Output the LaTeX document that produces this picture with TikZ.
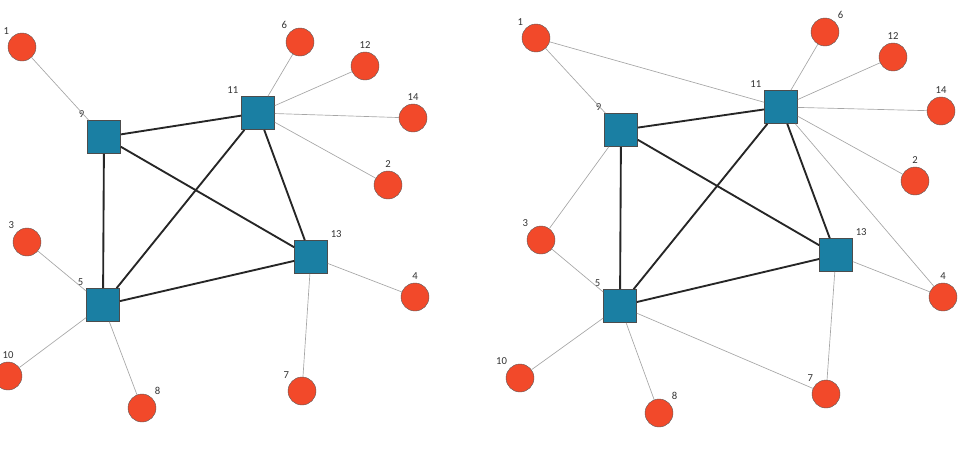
\documentclass[tikz,border=0pt]{standalone}
\usepackage{fontspec}
\setmainfont{Carlito}
\definecolor{nodered}{HTML}{F2492A}
\definecolor{hubblue}{HTML}{1A7FA3}
\tikzset{
  leaf/.style={circle, fill=nodered, draw=gray!70!black, line width=0.3pt, minimum size=21pt, inner sep=0pt},
  hub/.style={rectangle, fill=hubblue, draw=gray!60!black, line width=0.3pt, minimum size=25pt, inner sep=0pt},
  lbl/.style={font=\footnotesize, text=black!80, inner sep=2pt},
  thin/.style={gray!70, line width=0.5pt},
  thick/.style={black!85, line width=1.4pt}
}
\begin{document}
\begin{tikzpicture}[x=0.75pt, y=-0.75pt]
\useasboundingbox (0,0) rectangle (966,475);
% left network
\node[hub, label={[lbl]above left:9}] (9) at (104,137) {};
\node[hub, label={[lbl]above left:11}] (11) at (258,113) {};
\node[hub, label={[lbl]above right:13}] (13) at (311,257) {};
\node[hub, label={[lbl]above left:5}] (5) at (103,305) {};
\node[leaf, label={[lbl]above left:1}] (1) at (22,47) {};
\node[leaf, label={[lbl]above left:6}] (6) at (300,42) {};
\node[leaf, label={[lbl]above:12}] (12) at (365,66) {};
\node[leaf, label={[lbl]above:14}] (14) at (413,118) {};
\node[leaf, label={[lbl]above:2}] (2) at (388,185) {};
\node[leaf, label={[lbl]above left:3}] (3) at (27,242) {};
\node[leaf, label={[lbl]above:4}] (4) at (415,297) {};
\node[leaf, label={[lbl]above:10}] (10) at (8,376) {};
\node[leaf, label={[lbl]above right:8}] (8) at (142,408) {};
\node[leaf, label={[lbl]above left:7}] (7) at (302,391) {};
\draw[thin] (1) -- (9);
\draw[thin] (6) -- (11);
\draw[thin] (12) -- (11);
\draw[thin] (14) -- (11);
\draw[thin] (2) -- (11);
\draw[thin] (3) -- (5);
\draw[thin] (10) -- (5);
\draw[thin] (8) -- (5);
\draw[thin] (4) -- (13);
\draw[thin] (7) -- (13);
\draw[thick] (9) -- (11);
\draw[thick] (9) -- (5);
\draw[thick] (9) -- (13);
\draw[thick] (11) -- (5);
\draw[thick] (11) -- (13);
\draw[thick] (5) -- (13);
% right network
\node[hub, label={[lbl]above left:9}] (r9) at (621,130) {};
\node[hub, label={[lbl]above left:11}] (r11) at (781,107) {};
\node[hub, label={[lbl]above right:13}] (r13) at (836,255) {};
\node[hub, label={[lbl]above left:5}] (r5) at (620,306) {};
\node[leaf, label={[lbl]above left:1}] (r1) at (536,38) {};
\node[leaf, label={[lbl]above right:6}] (r6) at (825,32) {};
\node[leaf, label={[lbl]above:12}] (r12) at (893,57) {};
\node[leaf, label={[lbl]above:14}] (r14) at (941,111) {};
\node[leaf, label={[lbl]above:2}] (r2) at (915,181) {};
\node[leaf, label={[lbl]above left:3}] (r3) at (541,240) {};
\node[leaf, label={[lbl]above:4}] (r4) at (943,297) {};
\node[leaf, label={[lbl]above left:10}] (r10) at (520,378) {};
\node[leaf, label={[lbl]above right:8}] (r8) at (659,413) {};
\node[leaf, label={[lbl]above left:7}] (r7) at (826,394) {};
\draw[thin] (r1) -- (r9);
\draw[thin] (r1) -- (r11);
\draw[thin] (r6) -- (r11);
\draw[thin] (r12) -- (r11);
\draw[thin] (r14) -- (r11);
\draw[thin] (r2) -- (r11);
\draw[thin] (r4) -- (r11);
\draw[thin] (r4) -- (r13);
\draw[thin] (r3) -- (r9);
\draw[thin] (r3) -- (r5);
\draw[thin] (r10) -- (r5);
\draw[thin] (r8) -- (r5);
\draw[thin] (r7) -- (r5);
\draw[thin] (r7) -- (r13);
\draw[thick] (r9) -- (r11);
\draw[thick] (r9) -- (r5);
\draw[thick] (r9) -- (r13);
\draw[thick] (r11) -- (r5);
\draw[thick] (r11) -- (r13);
\draw[thick] (r5) -- (r13);
\end{tikzpicture}
\end{document}
